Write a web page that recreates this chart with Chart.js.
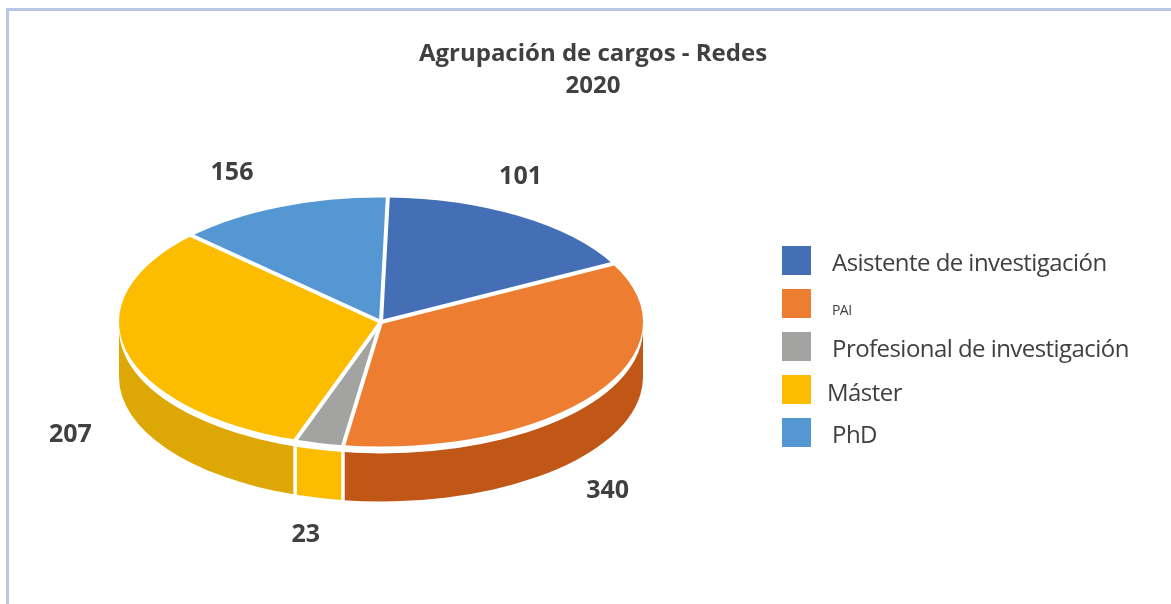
<!DOCTYPE html>
<html lang="es">
<head>
    <meta charset="UTF-8">
    <title>Agrupación de cargos - Redes 2020</title>
    <script src="https://cdn.jsdelivr.net/npm/chart.js"></script>
    <style>
        html, body { margin: 0; padding: 0; background: #fff; overflow: hidden; }
        #frame { position: absolute; left: 6px; top: 8px; right: 0; bottom: 0; border-top: 3px solid #bcc5e6; border-left: 3px solid #bcc5e6; }
        canvas { position: absolute; left: 0; top: 0; }
    </style>
</head>
<body>
    <div id="frame"></div>
    <canvas id="pieChart" width="1171" height="604"></canvas>

    <script>
        const titleLines = ['Agrupación de cargos - Redes', '2020'];
        const categories = ['Asistente de investigación', 'PAI', 'Profesional de investigación', 'Máster', 'PhD'];
        // Numbers printed next to the slices in the source picture
        const printedValues = [101, 340, 23, 207, 156];
        // Slice sizes (%) as measured on the picture. The source wedges do not
        // follow the printed numbers, so they are kept apart from them.
        const drawnShares = [16.9, 35.0, 3.0, 31.8, 13.3];
        const topColors = ['#446fb6', '#ec7d31', '#a3a3a1', '#fcbc00', '#5597d3'];
        // The wall under the grey slice is yellow in the source
        const wallColors = ['#34558c', '#c05717', '#fcbc00', '#dda805', '#3f74a6'];

        const textColor = '#404040';
        const fontFamily = '"Open Sans", "Noto Sans", sans-serif';
        const squash = 124.5 / 262;
        const wallDepth = 55;
        const rimGap = 7;
        // label offset from the rim point at each slice's middle
        const labelOffsets = [[1, -39], [13, 97], [-13, 92], [-56, 84], [-49, -34]];
        const legendText = [
            { x: 832, y: 271, size: 24 },
            { x: 832, y: 315, size: 14 },
            { x: 832, y: 357, size: 24 },
            { x: 827, y: 401, size: 24 },
            { x: 832, y: 443, size: 24 }
        ];

        function wallPiece(ctx, cx, cy, rx, ry, a1, a2) {
            ctx.beginPath();
            ctx.ellipse(cx, cy, rx, ry, 0, a1, a2);
            ctx.ellipse(cx, cy + wallDepth, rx, ry, 0, a2, a1, true);
            ctx.closePath();
        }

        const pie3d = {
            id: 'pie3d',
            beforeDatasetsDraw(chart) {
                const ctx = chart.ctx;
                const arcs = chart.getDatasetMeta(0).data;
                const cx = arcs[0].x, cy = arcs[0].y, rx = arcs[0].outerRadius, ry = rx * squash;

                // side walls, only the front half of the disc shows
                ctx.save();
                arcs.forEach((arc, i) => {
                    [0, 2 * Math.PI].forEach(turn => {
                        const a1 = Math.max(arc.startAngle - turn, 0);
                        const a2 = Math.min(arc.endAngle - turn, Math.PI);
                        if (a2 <= a1) return;
                        wallPiece(ctx, cx, cy, rx, ry, a1, a2);
                        ctx.fillStyle = wallColors[i];
                        ctx.fill();
                    });
                });
                // white cuts between wall pieces
                ctx.strokeStyle = '#fff';
                ctx.lineWidth = 3.5;
                arcs.forEach(arc => {
                    const a = arc.endAngle % (2 * Math.PI);
                    if (a <= 0 || a >= Math.PI) return;
                    const x = cx + rx * Math.cos(a), y = cy + ry * Math.sin(a);
                    ctx.beginPath();
                    ctx.moveTo(x, y);
                    ctx.lineTo(x, y + wallDepth + 2);
                    ctx.stroke();
                });
                // white band between the top and the wall
                ctx.beginPath();
                ctx.ellipse(cx, cy + rimGap, rx, ry, 0, 0, 2 * Math.PI);
                ctx.fillStyle = '#fff';
                ctx.fill();
                ctx.restore();

                // flatten the library's arcs into the disc top
                ctx.save();
                ctx.translate(cx, cy);
                ctx.scale(1, squash);
                ctx.translate(-cx, -cy);
            },
            afterDatasetsDraw(chart) {
                const ctx = chart.ctx;
                ctx.restore();
                const arcs = chart.getDatasetMeta(0).data;
                const cx = arcs[0].x, cy = arcs[0].y, rx = arcs[0].outerRadius, ry = rx * squash;

                // slice separators of even width
                ctx.save();
                ctx.strokeStyle = '#fff';
                ctx.lineWidth = 4;
                arcs.forEach(arc => {
                    ctx.beginPath();
                    ctx.moveTo(cx, cy);
                    ctx.lineTo(cx + (rx + 2) * Math.cos(arc.startAngle), cy + (ry + 2) * Math.sin(arc.startAngle));
                    ctx.stroke();
                });

                ctx.fillStyle = textColor;
                ctx.textBaseline = 'alphabetic';

                // title
                ctx.textAlign = 'center';
                ctx.font = 'bold 24px ' + fontFamily;
                titleLines.forEach((line, i) => ctx.fillText(line, 593, 61 + i * 32));

                // value labels
                ctx.font = 'bold 25px ' + fontFamily;
                ctx.textBaseline = 'middle';
                arcs.forEach((arc, i) => {
                    const mid = (arc.startAngle + arc.endAngle) / 2;
                    const x = cx + rx * Math.cos(mid) + labelOffsets[i][0];
                    const y = cy + ry * Math.sin(mid) + labelOffsets[i][1];
                    ctx.fillText(String(printedValues[i]), x, y);
                });

                // legend
                ctx.textAlign = 'left';
                ctx.textBaseline = 'alphabetic';
                ctx.letterSpacing = '-0.55px';
                categories.forEach((name, i) => {
                    ctx.fillStyle = topColors[i];
                    ctx.fillRect(782, 246 + i * 43, 29, 29);
                    ctx.fillStyle = textColor;
                    ctx.font = legendText[i].size + 'px ' + fontFamily;
                    ctx.fillText(name, legendText[i].x, legendText[i].y);
                });
                ctx.restore();
            }
        };

        new Chart(document.getElementById('pieChart'), {
            type: 'pie',
            data: {
                labels: categories,
                datasets: [{
                    data: drawnShares,
                    backgroundColor: topColors,
                    borderWidth: 0
                }]
            },
            options: {
                responsive: false,
                animation: false,
                rotation: 1.5,
                layout: { padding: { left: 119, right: 528, top: 60, bottom: 20 } },
                plugins: {
                    legend: { display: false },
                    title: { display: false },
                    tooltip: { enabled: false }
                }
            },
            plugins: [pie3d]
        });
    </script>
</body>
</html>
